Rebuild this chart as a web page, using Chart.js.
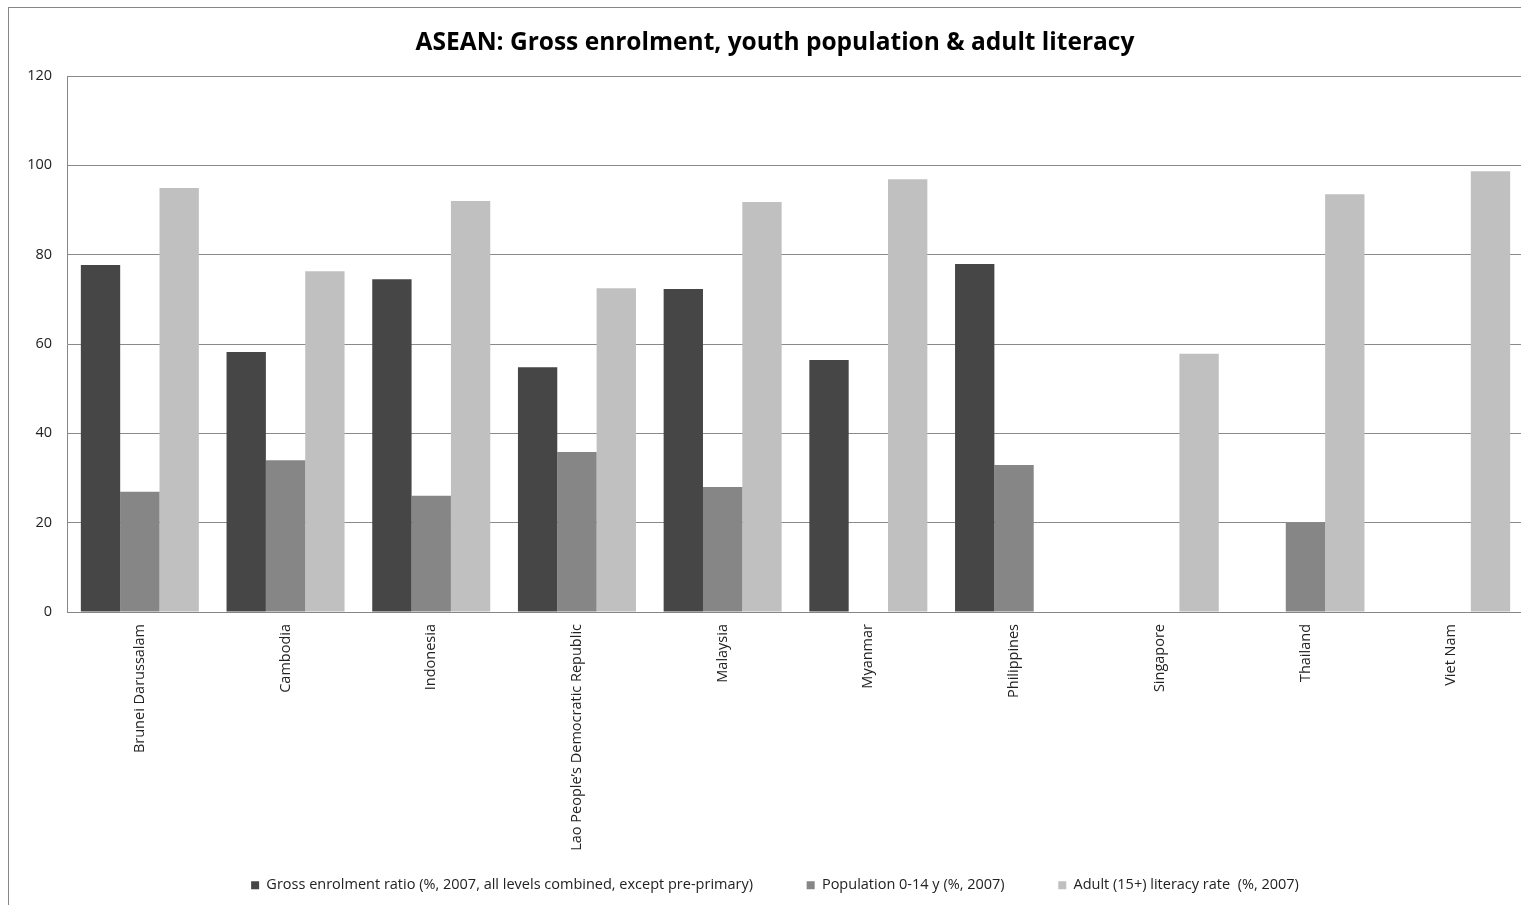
<!DOCTYPE html>
<html>
<head>
<meta charset="utf-8">
<script src="https://cdn.jsdelivr.net/npm/chart.js@4"></script>
<style>
  html, body { margin: 0; padding: 0; background: #fff; overflow: hidden; }
  #wrap {
    position: absolute;
    left: 8px;
    top: 7px;
    border-left: 1px solid #868686;
    border-top: 1px solid #868686;
  }
  canvas { display: block; }
</style>
</head>
<body>
<div id="wrap"><canvas id="chart" width="1532" height="900"></canvas></div>
<script>
const countries = [
  "Brunei Darussalam",
  "Cambodia",
  "Indonesia",
  "Lao People\u2019s Democratic Republic",
  "Malaysia",
  "Myanmar",
  "Philippines",
  "Singapore",
  "Thailand",
  "Viet Nam",
];

const grossEnrolment = [77.7, 58.2, 74.5, 54.8, 72.3, 56.4, 77.9, null, null, null];
const youthPopulation = [26.9, 34.0, 26.0, 35.8, 28.0, null, 32.9, null, 19.9, null];
const adultLiteracy = [94.9, 76.3, 92.0, 72.5, 91.8, 96.9, null, 57.8, 93.5, 98.7];

const seriesNames = [
  "Gross enrolment ratio (%, 2007, all levels combined, except pre-primary)",
  "Population 0-14 y (%, 2007)",
  "Adult (15+) literacy rate  (%, 2007)",
];

const yTicks = [0, 20, 40, 60, 80, 100, 120];

const font = "'Open Sans', 'DejaVu Sans', sans-serif";

const ctx = document.getElementById("chart").getContext("2d");

new Chart(ctx, {
  type: "bar",
  data: {
    labels: countries,
    datasets: [
      { label: seriesNames[0], data: grossEnrolment, backgroundColor: "#464646" },
      { label: seriesNames[1], data: youthPopulation, backgroundColor: "#868686" },
      { label: seriesNames[2], data: adultLiteracy, backgroundColor: "#c0c0c0" },
    ].map((d) => ({
      ...d,
      borderWidth: 0,
      categoryPercentage: 0.81,
      barPercentage: 1.0,
    })),
  },
  options: {
    responsive: false,
    animation: false,
    layout: { padding: { left: 0, right: 0, top: 0, bottom: 5.5 } },
    plugins: {
      title: {
        display: true,
        text: "ASEAN: Gross enrolment, youth population & adult literacy",
        color: "#000",
        font: { family: font, size: 24.5, weight: "bold" },
        padding: { top: 20, bottom: 18.6 },
      },
      legend: {
        position: "bottom",
        labels: {
          boxWidth: 8,
          boxHeight: 8,
          padding: 16,
          color: "#222",
          font: { family: font, size: 14.5 },
          // wider gap between the legend entries, like the original
          generateLabels: (chart) =>
            Chart.defaults.plugins.legend.labels
              .generateLabels(chart)
              .map((item, i) => ({
                ...item,
                text: i < 2 ? item.text + "          " : item.text,
              })),
        },
      },
      tooltip: { enabled: false },
    },
    scales: {
      x: {
        grid: { display: false, drawTicks: false },
        border: { display: true, color: "#868686", width: 1 },
        ticks: {
          autoSkip: false,
          minRotation: 90,
          maxRotation: 90,
          padding: 12,
          color: "#222",
          font: { family: font, size: 14.5 },
        },
        afterFit: (scale) => {
          scale.height = 250;
        },
      },
      y: {
        min: 0,
        max: 120,
        afterBuildTicks: (scale) => {
          scale.ticks = yTicks.map((v) => ({ value: v }));
        },
        grid: { color: "#8a8a8a", lineWidth: 1, drawTicks: false },
        border: { display: true, color: "#868686", width: 1 },
        ticks: {
          padding: 15,
          color: "#222",
          font: { family: font, size: 14.5 },
        },
        afterFit: (scale) => {
          scale.width = 58;
        },
      },
      // empty strip on the right so the plot stops short of the frame
      yRight: {
        position: "right",
        display: true,
        grid: { display: false, drawTicks: false },
        border: { display: false },
        ticks: { display: false },
        afterFit: (scale) => {
          scale.width = 17;
        },
      },
    },
  },
});
</script>
</body>
</html>
